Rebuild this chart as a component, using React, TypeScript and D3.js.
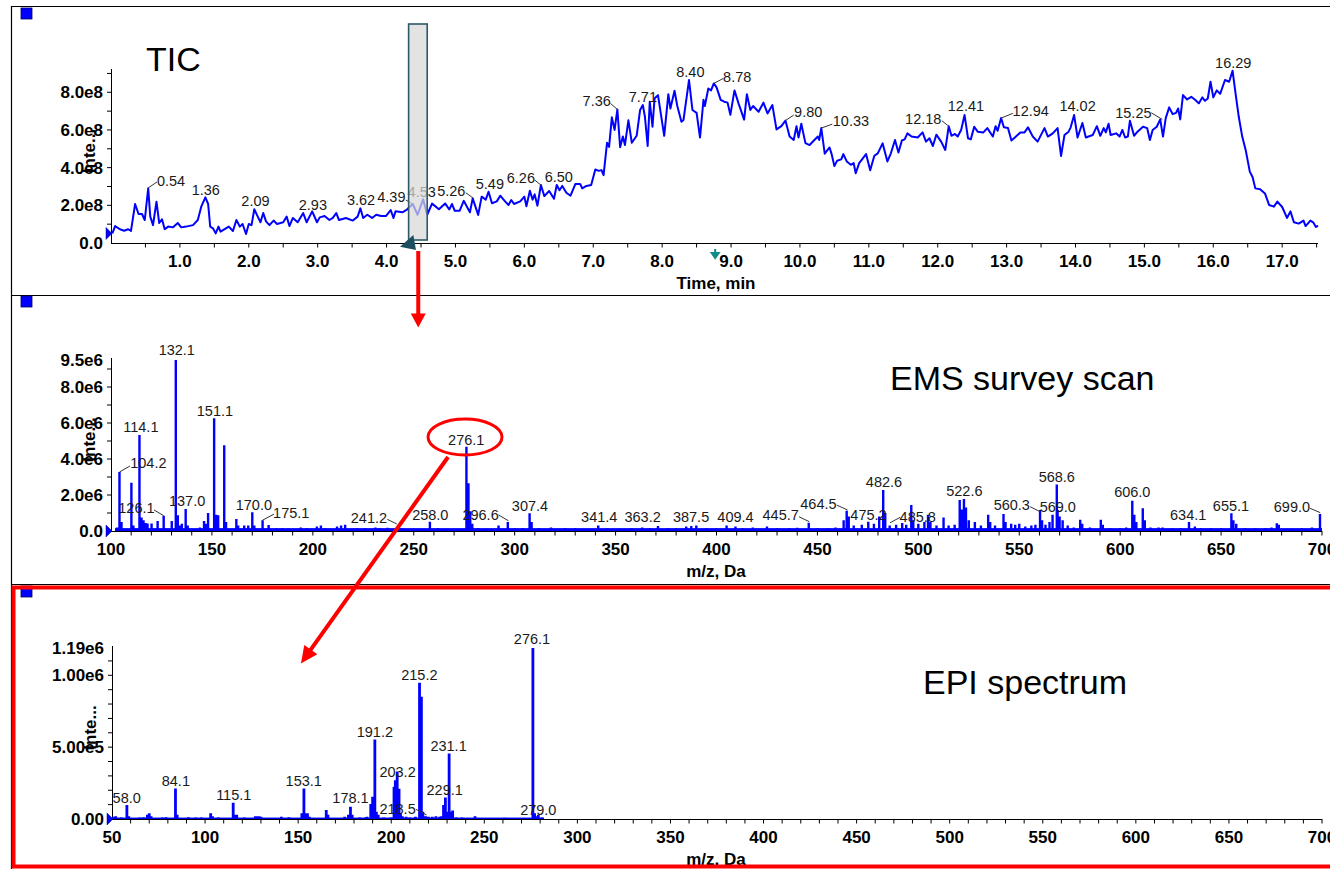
import React from "react";
import * as d3 from "d3";

const FONT = "'Liberation Sans', Arial, Helvetica, sans-serif";
const BLUE = "#0000ff";
const RED = "#ff0000";

// TIC trace: [time (min), intensity (x1e8)]
const ticTrace: [number, number][] = [
  [0.02, 0.51], [0.06, 0.9], [0.13, 0.73], [0.19, 0.65], [0.25, 0.73], [0.29, 0.64], [0.35, 2.07], [0.4, 1.54],
  [0.45, 1.54], [0.49, 1.22], [0.54, 2.9], [0.57, 1.4], [0.61, 0.95], [0.66, 2.19], [0.7, 1.06], [0.74, 1.26],
  [0.78, 0.73], [0.83, 0.87], [0.9, 0.83], [0.97, 1.06], [1.02, 0.83], [1.09, 0.87], [1.19, 0.95], [1.26, 1.22],
  [1.31, 1.93], [1.37, 2.42], [1.41, 2.07], [1.44, 0.87], [1.48, 0.78], [1.52, 0.51], [1.56, 0.87], [1.59, 0.6],
  [1.71, 0.87], [1.77, 0.64], [1.82, 1.22], [1.87, 0.87], [1.91, 1.01], [1.96, 0.48], [2.0, 1.01], [2.04, 0.95],
  [2.08, 1.79], [2.13, 1.4], [2.17, 1.1], [2.21, 1.59], [2.25, 1.15], [2.3, 0.95], [2.36, 1.19], [2.41, 1.01],
  [2.5, 1.1], [2.55, 1.4], [2.59, 0.9], [2.64, 1.33], [2.71, 1.1], [2.79, 1.59], [2.84, 1.1], [2.92, 1.68],
  [2.99, 1.1], [3.03, 1.36], [3.1, 1.43], [3.17, 1.22], [3.22, 1.33], [3.27, 1.59], [3.31, 1.22], [3.41, 1.33],
  [3.51, 1.19], [3.58, 1.4], [3.62, 1.84], [3.66, 1.33], [3.72, 1.5], [3.79, 1.33], [3.85, 1.5], [3.92, 1.43],
  [3.99, 1.43], [4.06, 1.75], [4.1, 1.33], [4.13, 1.68], [4.23, 1.63], [4.3, 1.79], [4.38, 2.07], [4.45, 1.5],
  [4.53, 2.32], [4.59, 1.5], [4.66, 2.09], [4.76, 1.79], [4.85, 2.1], [4.91, 1.78], [4.95, 2.07], [4.99, 1.71],
  [5.06, 1.71], [5.12, 2.24], [5.21, 1.63], [5.25, 2.37], [5.29, 1.93], [5.33, 1.49], [5.38, 2.46], [5.44, 2.3],
  [5.48, 2.72], [5.53, 2.11], [5.6, 2.21], [5.65, 2.51], [5.72, 2.21], [5.77, 2.02], [5.81, 2.28], [5.85, 2.07],
  [5.94, 2.21], [6.0, 2.46], [6.03, 1.95], [6.08, 2.77], [6.12, 2.3], [6.15, 2.58], [6.19, 1.98], [6.24, 3.08],
  [6.29, 2.49], [6.36, 2.76], [6.43, 2.35], [6.47, 3.08], [6.51, 2.8], [6.55, 3.03], [6.61, 2.67], [6.67, 2.51],
  [6.74, 3.13], [6.81, 3.13], [6.84, 2.9], [6.9, 3.03], [6.97, 3.08], [7.03, 3.9], [7.08, 3.83], [7.12, 3.87],
  [7.15, 3.6], [7.2, 5.32], [7.23, 5.1], [7.27, 6.67], [7.31, 6.0], [7.35, 7.09], [7.39, 5.08], [7.43, 5.65],
  [7.46, 5.2], [7.51, 6.51], [7.56, 5.32], [7.63, 5.69], [7.68, 7.06], [7.72, 7.32], [7.75, 6.7], [7.79, 5.15],
  [7.82, 7.5], [7.86, 6.17], [7.89, 7.67], [7.94, 7.85], [7.98, 6.88], [8.03, 5.69], [8.09, 7.9], [8.12, 7.14],
  [8.18, 8.08], [8.22, 7.27], [8.28, 6.44], [8.31, 6.53], [8.39, 8.65], [8.44, 7.06], [8.5, 6.91], [8.55, 5.6],
  [8.6, 7.6], [8.62, 7.27], [8.67, 8.2], [8.71, 8.1], [8.75, 8.47], [8.79, 8.26], [8.85, 7.6], [8.9, 7.5],
  [8.95, 7.45], [8.99, 6.8], [9.05, 8.1], [9.11, 7.4], [9.19, 6.55], [9.23, 7.9], [9.28, 7.06], [9.32, 7.27],
  [9.4, 6.97], [9.47, 7.45], [9.53, 6.88], [9.6, 7.32], [9.66, 6.03], [9.73, 6.2], [9.79, 6.5], [9.85, 5.65],
  [9.91, 5.47], [9.95, 6.2], [9.98, 5.6], [10.02, 6.33], [10.08, 5.3], [10.14, 5.2], [10.21, 5.47], [10.26, 5.65],
  [10.28, 5.47], [10.31, 6.1], [10.36, 4.74], [10.43, 5.07], [10.46, 4.72], [10.5, 4.08], [10.54, 4.37], [10.6, 4.44],
  [10.63, 4.72], [10.68, 4.33], [10.74, 4.15], [10.78, 4.24], [10.81, 3.7], [10.86, 4.24], [10.96, 4.72], [11.02, 3.86],
  [11.08, 4.63], [11.13, 4.76], [11.2, 5.29], [11.27, 4.33], [11.32, 4.76], [11.38, 5.47], [11.43, 4.8], [11.48, 5.44],
  [11.52, 5.5], [11.56, 5.82], [11.62, 5.65], [11.71, 5.6], [11.78, 5.87], [11.83, 5.38], [11.88, 5.56], [11.93, 5.15],
  [11.98, 5.75], [12.05, 5.38], [12.11, 4.94], [12.16, 6.2], [12.2, 5.69], [12.25, 5.79], [12.29, 5.65], [12.34, 6.0],
  [12.39, 6.79], [12.44, 5.56], [12.48, 5.5], [12.53, 6.17], [12.58, 5.91], [12.66, 5.86], [12.72, 6.1], [12.8, 5.65],
  [12.84, 6.2], [12.87, 5.96], [12.92, 6.63], [12.96, 6.14], [13.02, 6.1], [13.07, 5.44], [13.12, 5.6], [13.2, 5.87],
  [13.26, 5.87], [13.31, 6.14], [13.38, 5.65], [13.45, 5.38], [13.55, 6.1], [13.6, 5.65], [13.67, 5.82], [13.74, 6.1],
  [13.79, 4.62], [13.84, 5.73], [13.9, 5.91], [13.93, 6.14], [13.98, 6.79], [14.03, 5.6], [14.1, 6.37], [14.15, 5.6],
  [14.25, 5.73], [14.31, 6.2], [14.36, 5.69], [14.41, 6.1], [14.44, 5.87], [14.48, 6.33], [14.51, 5.73], [14.59, 5.82],
  [14.64, 5.65], [14.68, 6.0], [14.72, 5.6], [14.76, 5.65], [14.79, 6.49], [14.85, 5.69], [14.9, 5.91], [14.98, 6.17],
  [15.04, 6.1], [15.08, 5.47], [15.12, 6.0], [15.18, 6.17], [15.23, 6.56], [15.27, 5.65], [15.31, 6.63], [15.36, 7.2],
  [15.41, 6.84], [15.46, 6.91], [15.49, 7.14], [15.52, 6.56], [15.56, 7.85], [15.62, 7.62], [15.68, 7.76], [15.74, 7.59],
  [15.79, 7.41], [15.84, 7.73], [15.88, 7.55], [15.92, 7.67], [15.96, 8.56], [16.0, 7.73], [16.05, 8.1], [16.1, 7.92],
  [16.17, 8.65], [16.23, 8.56], [16.28, 9.14], [16.33, 7.76], [16.37, 6.7], [16.42, 5.65], [16.47, 4.94], [16.53, 3.79],
  [16.57, 3.5], [16.61, 2.9], [16.68, 2.85], [16.75, 2.63], [16.81, 2.02], [16.88, 1.93], [16.93, 2.2], [17.0, 1.91],
  [17.07, 1.33], [17.12, 1.68], [17.17, 1.1], [17.24, 1.03], [17.31, 1.19], [17.34, 0.9], [17.41, 1.19], [17.45, 1.1],
  [17.49, 0.85], [17.52, 0.92],
];

// EMS survey scan: [m/z, intensity (x1e6)]
const emsPeaks: [number, number][] = [
  [103, 0.2], [104.2, 3.28], [105.2, 0.5], [110.1, 2.68], [111.1, 0.3], [114.1, 5.33], [115.1, 0.75], [116.1, 0.6],
  [117.1, 0.45], [118.1, 0.42], [120.1, 0.42], [123.1, 0.56], [126.1, 0.85], [130.1, 0.55], [132.1, 9.5], [133.1, 0.87],
  [134.1, 0.3], [135.1, 0.4], [137.0, 1.22], [138.0, 0.3], [144, 0.2], [146.1, 0.55], [147, 0.4], [148.1, 1.0],
  [151.1, 6.26], [152.1, 0.9], [153.1, 0.87], [156.1, 4.76], [157, 0.5], [162.1, 0.67], [163, 0.3], [166, 0.3],
  [168, 0.3], [170.0, 1.04], [171, 0.3], [175.1, 0.6], [178.1, 0.33], [182, 0.15], [185, 0.15], [188, 0.12],
  [194, 0.2], [197, 0.15], [202, 0.25], [204, 0.3], [206, 0.15], [212, 0.25], [214, 0.3], [216, 0.35],
  [222, 0.15], [226, 0.15], [231, 0.2], [233, 0.15], [237, 0.18], [241.2, 0.15], [244, 0.15], [250, 0.12],
  [258.0, 0.52], [262, 0.15], [266, 0.12], [276.1, 4.68], [277.1, 2.65], [278, 1.1], [279, 0.4], [282, 0.15],
  [286, 0.12], [292, 0.3], [296.6, 0.5], [300, 0.15], [304, 0.15], [307.4, 0.98], [308.4, 0.5], [312, 0.15],
  [318, 0.2], [325, 0.15], [330, 0.15], [341.4, 0.3], [346, 0.15], [352, 0.12], [358, 0.15], [363.2, 0.2],
  [367, 0.15], [371, 0.28], [376, 0.15], [380, 0.15], [385, 0.25], [387.5, 0.28], [390, 0.3], [395, 0.15],
  [400, 0.15], [405, 0.3], [409.4, 0.25], [413, 0.15], [418, 0.2], [425, 0.25], [430, 0.15], [436, 0.15],
  [440, 0.18], [445.7, 0.46], [450, 0.15], [455, 0.15], [459, 0.2], [463, 0.6], [464.5, 1.13], [465.5, 0.8],
  [468, 0.3], [472, 0.35], [475.2, 0.52], [478, 0.4], [480.6, 0.8], [482.6, 2.28], [483.6, 1.0], [485.8, 0.3],
  [489, 0.35], [492, 0.45], [494, 0.35], [496.5, 1.44], [497.5, 0.6], [500, 0.4], [503, 0.5], [504.8, 0.9],
  [506, 0.5], [509, 0.3], [512.5, 0.75], [515, 0.3], [518, 0.35], [520.5, 1.72], [521.5, 1.2], [522.6, 1.78],
  [523.6, 1.3], [525, 0.6], [528, 0.5], [531, 0.3], [534.6, 0.9], [535.6, 0.5], [538, 0.3], [542.2, 0.95],
  [543.2, 0.5], [546, 0.4], [548, 0.35], [550, 0.4], [553, 0.25], [556, 0.3], [558, 0.35], [560.3, 1.17],
  [561.3, 0.6], [563, 0.35], [565, 0.5], [566.5, 0.9], [568.6, 2.59], [569.0, 1.17], [570, 0.8], [571.5, 0.6],
  [574, 0.3], [577, 0.2], [580.2, 0.62], [581.2, 0.4], [585, 0.2], [590.4, 0.62], [591.4, 0.35], [595, 0.15],
  [600, 0.15], [603, 0.2], [606.0, 1.68], [607, 0.9], [608, 0.5], [611.2, 1.26], [612.2, 0.6], [615, 0.2],
  [619, 0.2], [621, 0.2], [626, 0.15], [630, 0.15], [634.1, 0.5], [637, 0.25], [640, 0.15], [645, 0.15],
  [650, 0.15], [655.1, 0.98], [656.1, 0.6], [657.5, 0.4], [662, 0.15], [667, 0.15], [672, 0.15], [675, 0.2],
  [677.6, 0.43], [678.6, 0.35], [685, 0.12], [690, 0.15], [695, 0.2], [699.0, 0.95],
];
const emsFloor = { from: 102, to: 700, value: 0.16 };

// EPI spectrum: [m/z, intensity (x1e6)]
const epiPeaks: [number, number][] = [
  [51, 0.015], [52, 0.02], [55, 0.01], [58.0, 0.097], [59, 0.02], [65, 0.01], [67, 0.012], [69, 0.03],
  [70, 0.04], [71, 0.02], [77, 0.01], [79, 0.012], [84.1, 0.213], [85, 0.03], [91, 0.012], [95, 0.01],
  [98, 0.01], [103, 0.04], [104, 0.02], [107, 0.01], [115.1, 0.113], [116, 0.03], [117, 0.03], [121, 0.01],
  [127, 0.02], [128, 0.02], [129, 0.02], [130, 0.015], [141, 0.015], [145, 0.012], [152, 0.04], [153.1, 0.213],
  [154, 0.04], [155, 0.04], [156, 0.015], [165.1, 0.062], [166, 0.03], [175, 0.015], [177, 0.03], [178.1, 0.086],
  [179, 0.03], [183, 0.01], [186, 0.01], [187, 0.015], [189, 0.105], [190, 0.155], [191.2, 0.553], [192, 0.05],
  [193, 0.03], [196, 0.01], [200, 0.01], [201.5, 0.224], [202.2, 0.27], [203.2, 0.33], [204.2, 0.21], [205, 0.04],
  [206, 0.02], [208, 0.015], [210, 0.01], [213, 0.015], [215.2, 0.949], [216.2, 0.85], [217, 0.05], [218.5, 0.02],
  [220, 0.015], [222, 0.015], [224, 0.02], [226, 0.015], [227, 0.02], [228.1, 0.097], [229.1, 0.15], [230, 0.05],
  [231.1, 0.456], [232, 0.05], [233, 0.06], [235, 0.01], [238, 0.01], [245, 0.02], [261, 0.008], [276.1, 1.19],
  [277, 0.04], [278, 0.02], [279.0, 0.03], [281, 0.01],
];
const epiFloor = { from: 50, to: 282, value: 0.01 };

type Label = { t: string; x: number; y: number; lead?: [number, number, number, number] };

const ticLabels: Label[] = [
  { t: "0.54", x: 0.871, y: 3.02, lead: [0.54, 2.92, 0.668, 3.24] },
  { t: "1.36", x: 1.376, y: 2.55 },
  { t: "2.09", x: 2.097, y: 1.96 },
  { t: "2.93", x: 2.93, y: 1.75 },
  { t: "3.62", x: 3.63, y: 2.02 },
  { t: "4.39", x: 4.07, y: 2.18, lead: [4.38, 2.07, 4.28, 2.28] },
  { t: "4.53", x: 4.51, y: 2.44 },
  { t: "5.26", x: 4.94, y: 2.49, lead: [5.26, 2.37, 5.15, 2.67] },
  { t: "5.49", x: 5.5, y: 2.86 },
  { t: "6.26", x: 5.95, y: 3.16, lead: [6.24, 3.08, 6.15, 3.34] },
  { t: "6.50", x: 6.5, y: 3.24 },
  { t: "7.36", x: 7.05, y: 7.27, lead: [7.35, 7.09, 7.25, 7.41] },
  { t: "7.71", x: 7.72, y: 7.5 },
  { t: "8.40", x: 8.41, y: 8.8 },
  { t: "8.78", x: 9.09, y: 8.57, lead: [8.75, 8.47, 8.89, 8.74] },
  { t: "9.80", x: 10.12, y: 6.68, lead: [9.79, 6.5, 9.91, 6.79] },
  { t: "10.33", x: 10.74, y: 6.21, lead: [10.31, 6.1, 10.47, 6.31] },
  { t: "12.18", x: 11.79, y: 6.31, lead: [12.16, 6.2, 12.06, 6.49] },
  { t: "12.41", x: 12.41, y: 7.0 },
  { t: "12.94", x: 13.35, y: 6.74, lead: [12.92, 6.63, 13.09, 6.88] },
  { t: "14.02", x: 14.03, y: 7.0 },
  { t: "15.25", x: 14.84, y: 6.63, lead: [15.26, 6.56, 15.1, 6.91] },
  { t: "16.29", x: 16.29, y: 9.28 },
];

const emsLabels: Label[] = [
  { t: "132.1", x: 132.6, y: 9.78 },
  { t: "114.1", x: 114.8, y: 5.52 },
  { t: "104.2", x: 118.5, y: 3.48, lead: [104.2, 3.28, 109.4, 3.61] },
  { t: "151.1", x: 151.5, y: 6.39 },
  { t: "126.1", x: 112.6, y: 0.98, lead: [126.1, 0.85, 121.3, 1.17] },
  { t: "137.0", x: 137.7, y: 1.39 },
  { t: "170.0", x: 170.8, y: 1.17 },
  { t: "175.1", x: 189.3, y: 0.7, lead: [175.1, 0.6, 180.8, 0.94] },
  { t: "241.2", x: 227.8, y: 0.43, lead: [241.6, 0.39, 236.9, 0.65] },
  { t: "258.0", x: 258.2, y: 0.61 },
  { t: "276.1", x: 276.0, y: 4.78 },
  { t: "296.6", x: 283.1, y: 0.61, lead: [296.9, 0.57, 292.0, 0.89] },
  { t: "307.4", x: 307.6, y: 1.11 },
  { t: "341.4", x: 341.9, y: 0.48 },
  { t: "363.2", x: 363.4, y: 0.48 },
  { t: "387.5", x: 387.4, y: 0.48 },
  { t: "409.4", x: 409.4, y: 0.48 },
  { t: "445.7", x: 431.8, y: 0.61, lead: [445.9, 0.52, 440.9, 0.79] },
  { t: "464.5", x: 450.5, y: 1.22, lead: [464.9, 1.17, 459.6, 1.44] },
  { t: "475.2", x: 475.3, y: 0.61 },
  { t: "482.6", x: 483.0, y: 2.46 },
  { t: "485.8", x: 499.7, y: 0.52, lead: [486.0, 0.46, 491.0, 0.76] },
  { t: "522.6", x: 522.8, y: 1.94 },
  { t: "560.3", x: 546.3, y: 1.17, lead: [560.4, 1.07, 555.4, 1.35] },
  { t: "569.0", x: 569.1, y: 1.07 },
  { t: "568.6", x: 568.6, y: 2.74 },
  { t: "606.0", x: 606.0, y: 1.87 },
  { t: "634.1", x: 633.7, y: 0.61 },
  { t: "655.1", x: 654.9, y: 1.13 },
  { t: "699.0", x: 685.1, y: 1.07, lead: [699.1, 1.02, 694.1, 1.26] },
];

const epiLabels: Label[] = [
  { t: "58.0", x: 57.9, y: 0.113 },
  { t: "84.1", x: 84.3, y: 0.231 },
  { t: "115.1", x: 115.4, y: 0.132 },
  { t: "153.1", x: 153.0, y: 0.231 },
  { t: "178.1", x: 178.1, y: 0.113 },
  { t: "191.2", x: 191.2, y: 0.572 },
  { t: "203.2", x: 203.4, y: 0.29 },
  { t: "215.2", x: 215.1, y: 0.97 },
  { t: "218.5", x: 203.4, y: 0.035, lead: [219.0, 0.028, 213.3, 0.067] },
  { t: "231.1", x: 230.8, y: 0.474 },
  { t: "229.1", x: 228.7, y: 0.167 },
  { t: "276.1", x: 275.6, y: 1.22 },
  { t: "279.0", x: 279.0, y: 0.028 },
];

// tick values and labels
const ticXTicks = [1, 2, 3, 4, 5, 6, 7, 8, 9, 10, 11, 12, 13, 14, 15, 16, 17];
const ticXLabels = ["1.0", "2.0", "3.0", "4.0", "5.0", "6.0", "7.0", "8.0", "9.0", "10.0", "11.0", "12.0", "13.0", "14.0", "15.0", "16.0", "17.0"];
const ticYTicks = [0, 2, 4, 6, 8];
const ticYLabels = ["0.0", "2.0e8", "4.0e8", "6.0e8", "8.0e8"];

const emsXTicks = [100, 150, 200, 250, 300, 350, 400, 450, 500, 550, 600, 650, 700];
const emsXLabels = ["100", "150", "200", "250", "300", "350", "400", "450", "500", "550", "600", "650", "700"];
const emsYTicks = [0, 2, 4, 6, 8, 9.5];
const emsYLabels = ["0.0", "2.0e6", "4.0e6", "6.0e6", "8.0e6", "9.5e6"];

const epiXTicks = [50, 100, 150, 200, 250, 300, 350, 400, 450, 500, 550, 600, 650, 700];
const epiXLabels = ["50", "100", "150", "200", "250", "300", "350", "400", "450", "500", "550", "600", "650", "700"];
const epiYTicks = [0, 0.5, 1.0, 1.19];
const epiYLabels = ["0.00", "5.00e5", "1.00e6", "1.19e6"];

// selected TIC window (min) and marked retention time
const selection = [4.32, 4.59];
const markedTime = 8.77;

type Lin = d3.ScaleLinear<number, number>;

function Axes(props: {
  x: Lin; y: Lin; xTicks: number[]; xLabels: string[]; xMinor: number[];
  yTicks: number[]; yLabels: string[]; yMinor: number[]; title: string; start: number;
}) {
  const { x, y, xTicks, xLabels, xMinor, yTicks, yLabels, yMinor, title, start } = props;
  const [x0, x1] = x.range();
  const [y0, y1] = y.range();
  return (
    <g fontFamily={FONT}>
      <line x1={x0} x2={x1} y1={y0 + 0.5} y2={y0 + 0.5} stroke="#000" />
      <line x1={x0 + 0.5} x2={x0 + 0.5} y1={y0} y2={y1 - 2} stroke="#000" />
      {xMinor.map((v, i) => (
        <line key={"xm" + i} x1={x(v)} x2={x(v)} y1={y0} y2={y0 + 4.5} stroke="#000" />
      ))}
      {yMinor.map((v, i) => (
        <line key={"ym" + i} x1={x0 - 4} x2={x0} y1={y(v)} y2={y(v)} stroke="#000" />
      ))}
      {xTicks.map((v, i) => (
        <text key={"xl" + i} x={x(v)} y={y0 + 23.5} textAnchor="middle" fontSize={17} fontWeight="bold">
          {xLabels[i]}
        </text>
      ))}
      {yTicks.map((v, i) => (
        <text key={"yl" + i} x={x0 - 8} y={y(v) + 6} textAnchor="end" fontSize={17} fontWeight="bold">
          {yLabels[i]}
        </text>
      ))}
      <text x={716} y={y0 + 45.5} textAnchor="middle" fontSize={17} fontWeight="bold">{title}</text>
      <text
        transform={`translate(${x0 - 16},${(y0 + y1) / 2 - 6}) rotate(-90)`}
        textAnchor="middle"
        fontSize={17}
        fontWeight="bold"
      >
        Inte...
      </text>
      <path
        d={`M${x0 + 1},${y(start)} l-6,-6 v12 z`}
        fill={BLUE}
        stroke="#000080"
        strokeWidth={0.5}
      />
    </g>
  );
}

function PeakLabels({ x, y, labels }: { x: Lin; y: Lin; labels: Label[] }) {
  return (
    <g fontFamily={FONT} fontSize={14.5} fill="#1a1a1a">
      {labels.map((d, i) => (
        <g key={i}>
          {d.lead && (
            <line
              x1={x(d.lead[0])}
              y1={y(d.lead[1])}
              x2={x(d.lead[2])}
              y2={y(d.lead[3])}
              stroke="#333"
              strokeWidth={1}
            />
          )}
          <text x={x(d.x)} y={y(d.y)} textAnchor="middle">{d.t}</text>
        </g>
      ))}
    </g>
  );
}

function Sticks({ x, y, peaks, width }: { x: Lin; y: Lin; peaks: [number, number][]; width: number }) {
  const d = peaks.map(([m, v]) => `M${x(m).toFixed(2)},${y(0)}V${y(v).toFixed(2)}`).join("");
  return <path d={d} stroke={BLUE} strokeWidth={width} fill="none" />;
}

function arrowPath(x1: number, y1: number, x2: number, y2: number, len: number, half: number) {
  const dx = x2 - x1;
  const dy = y2 - y1;
  const l = Math.hypot(dx, dy);
  const ux = dx / l;
  const uy = dy / l;
  const bx = x2 - ux * len;
  const by = y2 - uy * len;
  return {
    line: { x1, y1, x2: bx + ux * 2, y2: by + uy * 2 },
    head: `M${x2},${y2}L${bx - uy * half},${by + ux * half}L${bx + uy * half},${by - ux * half}Z`,
  };
}

export default function App() {
  const ticX = d3.scaleLinear().domain([0, 17.52]).range([111, 1318]);
  const ticY = d3.scaleLinear().domain([0, 9.13]).range([243, 71]);
  const emsX = d3.scaleLinear().domain([100, 700]).range([111, 1322]);
  const emsY = d3.scaleLinear().domain([0, 9.5]).range([531, 360]);
  const epiX = d3.scaleLinear().domain([50, 700]).range([112, 1322]);
  const epiY = d3.scaleLinear().domain([0, 1.19]).range([819, 648]);

  const ticLine = d3
    .line<[number, number]>()
    .x((d) => ticX(d[0]))
    .y((d) => ticY(d[1]));

  const selX0 = ticX(selection[0]);
  const selX1 = ticX(selection[1]);
  const selTop = 24;
  const selBottom = ticY(0) - 3;

  const a1 = arrowPath(ticX(4.46), ticY(0) + 8, ticX(4.46), emsY(11.3), 14, 7.5);
  const a2 = arrowPath(emsX(267), emsY(4.11), epiX(151.5), epiY(1.083), 17, 8);

  const mx = ticX(markedTime);

  return (
    <svg
      width={1330}
      height={869}
      viewBox="0 0 1330 869"
      style={{ position: "absolute", left: 0, top: 0, display: "block", background: "#fff" }}
    >
      {/* panel frames */}
      <line x1={11} x2={1330} y1={6.5} y2={6.5} stroke="#000" strokeWidth={1.2} />
      <line x1={11.5} x2={11.5} y1={6} y2={869} stroke="#000" strokeWidth={1.2} />
      <line x1={11} x2={1330} y1={295.5} y2={295.5} stroke="#000" strokeWidth={1.2} />
      <line x1={11} x2={1330} y1={584.5} y2={584.5} stroke="#000" strokeWidth={1.2} />
      <rect x={21} y={8} width={11} height={11} fill={BLUE} stroke="#000060" strokeWidth={0.8} />
      <rect x={21} y={296} width={11} height={11} fill={BLUE} stroke="#000060" strokeWidth={0.8} />
      <rect x={21} y={586} width={11} height={11} fill={BLUE} stroke="#000060" strokeWidth={0.8} />

      {/* TIC */}
      <text x={146} y={71} fontFamily={FONT} fontSize={34}>TIC</text>
      <Axes
        x={ticX} y={ticY}
        xTicks={ticXTicks} xLabels={ticXLabels} xMinor={d3.range(0.5, 17.51, 0.5)}
        yTicks={ticYTicks} yLabels={ticYLabels} yMinor={d3.range(1, 9.01, 1)}
        title="Time, min" start={ticTrace[0][1]}
      />
      <path d={ticLine(ticTrace) ?? ""} fill="none" stroke={BLUE} strokeWidth={2} strokeLinejoin="round" />
      <PeakLabels x={ticX} y={ticY} labels={ticLabels} />
      <rect
        x={selX0} y={selTop} width={selX1 - selX0} height={selBottom - selTop}
        fill="#d8d8d8" fillOpacity={0.72} stroke="#2c5868" strokeWidth={1.6}
      />
      <path
        d={`M${selX0 - 8.6},${selBottom + 6.7}L${selX0 + 4.7},${selBottom - 5}L${selX0 + 7.4},${selBottom + 10}Z`}
        fill="#1d4f60"
      />
      <path
        d={`M${mx},${ticY(0) + 6}V${ticY(0) + 11}M${mx - 3.5},${ticY(0) + 10}L${mx},${ticY(0) + 15}L${mx + 3.5},${ticY(0) + 10}Z`}
        stroke="#138a8a" strokeWidth={2} fill="#138a8a"
      />

      {/* EMS survey scan */}
      <text x={890} y={390} fontFamily={FONT} fontSize={34}>EMS survey scan</text>
      <Axes
        x={emsX} y={emsY}
        xTicks={emsXTicks} xLabels={emsXLabels} xMinor={d3.range(110, 700.1, 10)}
        yTicks={emsYTicks} yLabels={emsYLabels} yMinor={d3.range(1, 9.01, 1)}
        title="m/z, Da" start={0}
      />
      <rect
        x={emsX(emsFloor.from)} y={emsY(emsFloor.value)}
        width={emsX(emsFloor.to) - emsX(emsFloor.from)} height={emsY(0) - emsY(emsFloor.value)}
        fill={BLUE}
      />
      <Sticks x={emsX} y={emsY} peaks={emsPeaks} width={2.4} />
      <PeakLabels x={emsX} y={emsY} labels={emsLabels} />

      {/* EPI spectrum */}
      <text x={923} y={694} fontFamily={FONT} fontSize={34}>EPI spectrum</text>
      <Axes
        x={epiX} y={epiY}
        xTicks={epiXTicks} xLabels={epiXLabels} xMinor={d3.range(60, 700.1, 10)}
        yTicks={epiYTicks} yLabels={epiYLabels} yMinor={d3.range(0.1, 1.11, 0.1)}
        title="m/z, Da" start={0}
      />
      <rect
        x={epiX(epiFloor.from)} y={epiY(epiFloor.value)}
        width={epiX(epiFloor.to) - epiX(epiFloor.from)} height={epiY(0) - epiY(epiFloor.value)}
        fill={BLUE}
      />
      <Sticks x={epiX} y={epiY} peaks={epiPeaks} width={2.8} />
      <PeakLabels x={epiX} y={epiY} labels={epiLabels} />

      {/* red annotations */}
      <rect x={13.5} y={587.5} width={1330} height={279} fill="none" stroke={RED} strokeWidth={4} />
      <line {...a1.line} stroke={RED} strokeWidth={4} />
      <path d={a1.head} fill={RED} />
      <ellipse cx={emsX(275.4)} cy={emsY(5.22)} rx={37} ry={18} fill="none" stroke={RED} strokeWidth={3} />
      <line {...a2.line} stroke={RED} strokeWidth={4} />
      <path d={a2.head} fill={RED} />
    </svg>
  );
}
